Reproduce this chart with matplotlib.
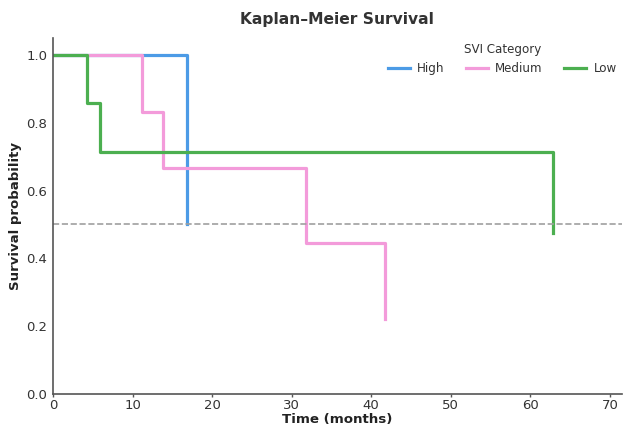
import matplotlib
matplotlib.use("Agg")
import matplotlib.pyplot as plt

# Kaplan-Meier step data (time in months, survival probability)
high_t = [0, 16.9, 16.9]
high_s = [1.0, 1.0, 0.5]
medium_t = [0, 11.2, 13.8, 31.8, 41.7, 41.7]
medium_s = [1.0, 0.833, 0.667, 0.444, 0.444, 0.222]
low_t = [0, 4.3, 5.9, 62.9, 62.9]
low_s = [1.0, 0.857, 0.714, 0.714, 0.476]

series = [("High", high_t, high_s, "#4C9BE6"),
          ("Medium", medium_t, medium_s, "#F39BDA"),
          ("Low", low_t, low_s, "#4CAF50")]

fig = plt.figure(figsize=(6.23, 4.28), dpi=100)
ax = fig.add_axes([0.085, 0.0794, 0.913, 0.832])

for name, t, s, c in series:
    ax.step(t, s, where="post", color=c, lw=2.3, label=name)

ax.axhline(0.5, color="#a0a0a0", ls="--", lw=1.2)

ax.set_xlim(0, 71.5)
ax.set_ylim(0, 1.05)
ax.set_xticks(range(0, 71, 10))
ax.set_yticks([0.0, 0.2, 0.4, 0.6, 0.8, 1.0])
ax.set_yticklabels([f"{v:.1f}" for v in [0.0, 0.2, 0.4, 0.6, 0.8, 1.0]])

for sp in ["top", "right"]:
    ax.spines[sp].set_visible(False)
for sp in ["left", "bottom"]:
    ax.spines[sp].set_color("#555555")
    ax.spines[sp].set_linewidth(1.2)
ax.tick_params(axis="x", colors="#555555", labelcolor="#333333", labelsize=9.5, length=2, width=1, pad=1.5)
ax.tick_params(axis="y", colors="#555555", labelcolor="#333333", labelsize=9.5, length=0, pad=4)

ax.set_xlabel("Time (months)", fontsize=9.6, fontweight="bold", color="#222222", labelpad=1)
ax.set_ylabel("Survival probability", fontsize=9.5, fontweight="bold", color="#222222", labelpad=3)
ax.set_title("Kaplan\u2013Meier Survival", fontsize=11.2, fontweight="bold", color="#333333", pad=10)

leg = ax.legend(title="SVI Category", ncol=3, frameon=False, loc="upper right",
                fontsize=8.6, title_fontsize=8.6, bbox_to_anchor=(1.01, 1.015),
                handlelength=1.85, handletextpad=0.6, columnspacing=1.8)
for txt in leg.get_texts():
    txt.set_color("#333333")
leg.get_title().set_color("#333333")

fig.savefig("out.png", dpi=100)
